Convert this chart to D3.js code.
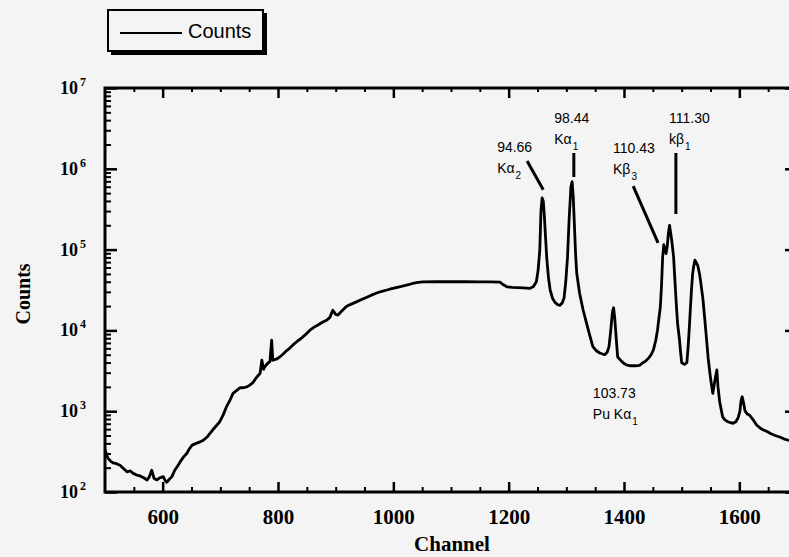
<!DOCTYPE html>
<html><head><meta charset="utf-8">
<script src="https://cdn.jsdelivr.net/npm/d3@7"></script>
<style>body{margin:0;background:#f4f4f4;}svg{display:block}</style>
</head><body><svg id="c" width="789" height="557"></svg>
<script>
const channels = [500,505,510,514,520,526,532,538,544,549,555,561,567,573,577,581,585,590,595,601,604,607,612,616,621,626,630,636,642,646,651,658,665,671,677,682,687,693,699,705,711,717,722,728,734,740,746,751,756,763,769,772,775,777,783,786,789,791,797,803,809,815,820,826,833,840,847,855,862,870,877,885,890,895,900,904,911,919,926,935,944,954,962,970,980,989,997,1005,1014,1023,1032,1040,1051,1075,1100,1125,1150,1170,1185,1190,1197,1206,1215,1226,1237,1243,1248,1251,1254,1256,1258,1260,1262,1264,1266,1269,1272,1276,1280,1285,1289,1293,1296,1299,1302,1305,1308,1310,1312,1314,1316,1318,1323,1329,1335,1340,1346,1352,1358,1363,1367,1371,1374,1377,1380,1382,1384,1386,1389,1395,1400,1405,1412,1420,1427,1433,1438,1443,1447,1451,1455,1458,1461,1463,1465,1467,1469,1471,1473,1475,1477,1479,1481,1483,1486,1488,1491,1493,1496,1498,1500,1505,1509,1511,1513,1515,1517,1519,1521,1523,1525,1528,1531,1533,1537,1540,1543,1546,1549,1551,1554,1558,1561,1563,1566,1571,1575,1580,1585,1589,1594,1598,1601,1603,1605,1607,1610,1614,1618,1624,1630,1636,1641,1648,1655,1662,1670,1677,1685,1692,1700];
const counts = [331,263,240,229,224,214,195,178,182,170,162,158,150,141,155,186,148,141,150,155,140,132,145,155,186,210,234,270,302,340,380,400,417,440,479,530,589,660,741,900,1150,1380,1660,1800,1950,1950,2000,2100,2240,2630,2950,4270,3300,3550,3980,4100,7590,4270,4400,4680,5100,5620,6000,6610,7300,7940,8800,10000,10900,11750,12600,13490,14500,17780,15800,15490,17500,19950,21000,22390,24000,25700,27300,28840,30500,31620,32800,33880,35000,36310,37800,38900,39810,40000,40000,40000,39810,39810,39500,37000,34670,34000,33880,33500,33110,35000,40000,55000,100000,300000,436500,400000,251200,140000,79430,45000,31620,25000,22390,20800,20420,22000,25120,40000,79430,250000,600000,691800,450000,200000,90000,51290,28840,18000,12300,9000,6310,5600,5250,5100,5010,5400,6310,10000,17000,19050,14000,8910,4680,4200,3900,3720,3650,3650,3700,3980,4200,4570,5000,5750,7500,10000,15000,19500,35000,80000,114800,100000,89130,110000,160000,199500,160000,125900,81280,45000,19500,12000,7940,5500,3980,3800,3980,6000,10000,18000,31620,50000,63100,74130,70000,63100,50000,39810,23990,14000,7940,4500,2950,2300,1660,2500,3240,2000,1300,851,780,741,720,708,740,832,1000,1350,1510,1300,1000,920,891,780,676,620,589,560,525,500,479,455,437,425,417];

const xMajorTicks = [600,800,1000,1200,1400,1600];
const xMinorTicks = [550,650,700,750,850,900,950,1050,1100,1150,1250,1300,1350,1450,1500,1550,1650,1700];
const yDecades = [1e2,1e3,1e4,1e5,1e6,1e7];
const yExponents = ["2","3","4","5","6","7"];
const xTitle = "Channel";
const yTitle = "Counts";
const legendLabel = "Counts";

// peak annotations (anchors in data units: channel, counts)
const peakEnergies = ["94.66","98.44","110.43","111.30","103.73"];
const peakNames = ["Kα","Kα","Kβ","kβ","Pu Kα"];
const peakSubs = ["2","1","3","1","1"];
const peakTextChannel = [1180,1279,1381,1478,1346];
const peakTextCounts = [1.61e6,3.69e6,1.57e6,3.69e6,1455];
const leaderFrom = [[1232,1.25e6],[1313,1.57e6],[1416,6.1e5],[1490,1.57e6]];
const leaderTo = [[1260,5.5e5],[1313,7.9e5],[1459,1.21e5],[1490,2.76e5]];

const svg = d3.select("#c");
const L = 105, R = 797, T = 88, B = 492;
const x = d3.scaleLinear().domain([500,1700]).range([L,R]);
const y = d3.scaleLog().domain([1e2,1e7]).range([B,T]);

svg.append("rect").attr("width",789).attr("height",557).attr("fill","#f4f4f4");

const serif = "'Liberation Serif','Times New Roman',serif";
const sans = "'Liberation Sans',Arial,Helvetica,sans-serif";

function styleAxis(g, w){
  g.select(".domain").remove();
  g.selectAll(".tick line").attr("stroke","#000").attr("stroke-width",w);
}
const yMinor = [];
yDecades.slice(0,-1).forEach(d=>{for(let k=2;k<=9;k++) yMinor.push(d*k);});

// bottom
svg.append("g").attr("transform",`translate(0,${B})`)
  .call(d3.axisBottom(x).tickValues(xMinorTicks).tickSize(-5).tickFormat(""))
  .call(g=>styleAxis(g,2));
const bx = svg.append("g").attr("transform",`translate(0,${B})`)
  .call(d3.axisBottom(x).tickValues(xMajorTicks).tickSize(-10).tickPadding(17).tickFormat(d3.format("d")))
  .call(g=>styleAxis(g,2.5));
bx.selectAll("text").attr("font-family",serif).attr("font-weight","bold").attr("font-size",21).attr("fill","#000");
// top
svg.append("g").attr("transform",`translate(0,${T})`)
  .call(d3.axisTop(x).tickValues(xMinorTicks).tickSize(-4).tickFormat(""))
  .call(g=>styleAxis(g,2));
svg.append("g").attr("transform",`translate(0,${T})`)
  .call(d3.axisTop(x).tickValues(xMajorTicks).tickSize(-10).tickFormat(""))
  .call(g=>styleAxis(g,2.5));
// left
svg.append("g").attr("transform",`translate(${L},0)`)
  .call(d3.axisLeft(y).tickValues(yMinor).tickSize(-6).tickFormat(""))
  .call(g=>styleAxis(g,2));
svg.append("g").attr("transform",`translate(${L},0)`)
  .call(d3.axisLeft(y).tickValues(yDecades).tickSize(-12).tickFormat(""))
  .call(g=>styleAxis(g,2.5));
// right
svg.append("g").attr("transform",`translate(${R},0)`)
  .call(d3.axisRight(y).tickValues(yMinor).tickSize(-6).tickFormat(""))
  .call(g=>styleAxis(g,2));
svg.append("g").attr("transform",`translate(${R},0)`)
  .call(d3.axisRight(y).tickValues(yDecades).tickSize(-12).tickFormat(""))
  .call(g=>styleAxis(g,2.5));

// frame
svg.append("rect").attr("x",L).attr("y",T).attr("width",R-L).attr("height",B-T)
  .attr("fill","none").attr("stroke","#000").attr("stroke-width",3);

// y labels 10^n
const yl = svg.append("g");
yDecades.forEach((d,i)=>{
  yl.append("text").attr("font-family",serif).attr("font-weight","bold").attr("fill","#000")
    .attr("x",78).attr("y",y(d)+6).attr("text-anchor","end").attr("font-size",18).text("10");
  yl.append("text").attr("font-family",serif).attr("font-weight","bold").attr("fill","#000")
    .attr("x",80).attr("y",y(d)-2).attr("font-size",12).text(yExponents[i]);
});

// titles
svg.append("text").attr("x",452).attr("y",551).attr("text-anchor","middle")
  .attr("font-family",serif).attr("font-weight","bold").attr("font-size",21).attr("fill","#000")
  .text(xTitle);
svg.append("text").attr("transform","translate(30,294) rotate(-90)").attr("text-anchor","middle")
  .attr("font-family",serif).attr("font-weight","bold").attr("font-size",20).attr("fill","#000").text(yTitle);

// spectrum
const pts = channels.map((c,i)=>[c,counts[i]]);
svg.append("path").datum(pts)
  .attr("d",d3.line().x(d=>x(d[0])).y(d=>y(d[1])))
  .attr("fill","none").attr("stroke","#000").attr("stroke-width",2.8).attr("stroke-linejoin","round");

// leaders
leaderFrom.forEach((f,i)=>{
  const t = leaderTo[i];
  svg.append("line").attr("x1",x(f[0])).attr("y1",y(f[1])).attr("x2",x(t[0])).attr("y2",y(t[1]))
    .attr("stroke","#000").attr("stroke-width",3);
});
// peak labels
peakEnergies.forEach((e,i)=>{
  const px = x(peakTextChannel[i]), py = y(peakTextCounts[i]);
  svg.append("text").attr("x",px).attr("y",py).attr("font-family",sans).attr("font-size",14).attr("fill","#000").text(e);
  const t = svg.append("text").attr("x",px).attr("y",py+21).attr("font-family",sans).attr("font-size",14).attr("fill","#000");
  t.append("tspan").text(peakNames[i]);
  t.append("tspan").attr("dx",1).attr("dy",6).attr("font-size",10).text(peakSubs[i]);
});

// legend
const lg = svg.append("g");
lg.append("rect").attr("x",111).attr("y",13).attr("width",156).attr("height",42).attr("fill","#000");
lg.append("rect").attr("x",108).attr("y",10).attr("width",155).attr("height",41)
  .attr("fill","#f4f4f4").attr("stroke","#000").attr("stroke-width",2);
lg.append("line").attr("x1",120).attr("x2",182).attr("y1",33).attr("y2",33).attr("stroke","#000").attr("stroke-width",2);
lg.append("text").attr("x",188).attr("y",38).attr("font-family",sans).attr("font-size",20).attr("fill","#000").text(legendLabel);
</script></body></html>
